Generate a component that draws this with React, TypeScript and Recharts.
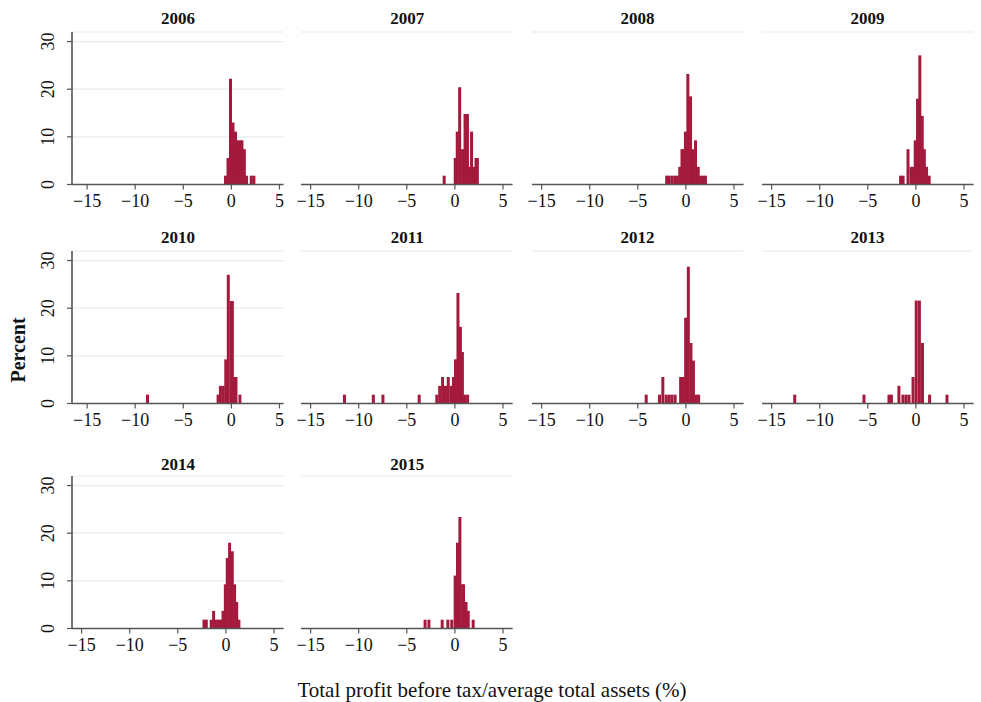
import React from 'react';
import { BarChart, Bar, XAxis, YAxis, CartesianGrid } from 'recharts';

// histogram bins per year: [bin centre (%), percent of banks]
const bins2006 = [[-0.63, 1.85], [-0.37, 5.56], [-0.11, 22.2], [0.15, 13.0], [0.41, 11.1], [0.65, 9.26], [0.87, 9.26], [1.08, 9.26], [1.33, 7.41], [1.56, 1.85], [2.05, 1.85], [2.32, 1.85]];
const bins2007 = [[-1.11, 1.85], [0.04, 5.56], [0.25, 11.1], [0.5, 20.4], [0.8, 7.41], [1.06, 14.8], [1.31, 14.8], [1.53, 3.7], [1.74, 11.1], [1.98, 3.7], [2.2, 5.56], [2.34, 5.56]];
const bins2008 = [[-1.98, 1.85], [-1.75, 1.85], [-1.45, 1.85], [-1.15, 1.85], [-0.87, 1.85], [-0.62, 3.7], [-0.39, 7.41], [-0.22, 7.41], [-0.03, 11.1], [0.22, 23.2], [0.5, 18.5], [0.75, 7.41], [1.02, 9.26], [1.3, 3.7], [1.55, 1.85], [1.8, 1.85], [2.05, 1.85]];
const bins2009 = [[-1.57, 1.85], [-1.31, 1.85], [-0.8, 7.41], [-0.48, 3.7], [-0.3, 3.7], [-0.05, 9.26], [0.19, 18.0], [0.43, 27.1], [0.68, 14.4], [0.9, 7.41], [1.13, 3.7], [1.4, 1.85]];
const bins2010 = [[-8.72, 1.85], [-1.38, 1.85], [-1.14, 3.7], [-0.85, 3.7], [-0.58, 9.26], [-0.32, 27.0], [-0.02, 21.5], [0.1, 21.5], [0.33, 5.56], [0.48, 5.56], [0.89, 1.85]];
const bins2011 = [[-11.5, 1.85], [-8.5, 1.85], [-7.5, 1.85], [-3.73, 1.85], [-1.9, 1.85], [-1.6, 3.7], [-1.3, 5.56], [-1.0, 3.7], [-0.71, 5.56], [-0.42, 3.7], [-0.17, 5.56], [0.04, 9.26], [0.3, 23.2], [0.55, 16.1], [0.76, 10.8], [1.0, 1.85], [1.3, 1.85]];
const bins2012 = [[-4.13, 1.85], [-2.75, 1.85], [-2.4, 5.56], [-2.05, 1.85], [-1.75, 1.85], [-1.45, 1.85], [-1.12, 1.85], [-0.55, 5.56], [-0.28, 5.56], [-0.03, 18.0], [0.25, 28.7], [0.52, 12.7], [0.78, 9.0], [1.05, 1.85], [1.32, 1.85]];
const bins2013 = [[-12.6, 1.85], [-5.4, 1.85], [-2.8, 1.85], [-2.55, 1.85], [-1.77, 3.7], [-1.35, 1.85], [-1.03, 1.85], [-0.72, 1.85], [-0.3, 5.56], [0.03, 21.6], [0.36, 21.6], [0.68, 12.7], [1.42, 1.85], [3.23, 1.85]];
const bins2014 = [[-2.3, 1.85], [-2.06, 1.85], [-1.55, 1.85], [-1.3, 3.7], [-1.03, 1.85], [-0.78, 1.85], [-0.55, 1.85], [-0.32, 3.7], [-0.08, 9.26], [0.12, 14.8], [0.36, 18.0], [0.64, 16.2], [0.88, 9.26], [1.1, 5.56], [1.33, 1.85]];
const bins2015 = [[-3.1, 1.85], [-2.7, 1.85], [-1.32, 1.85], [-0.73, 1.85], [-0.32, 1.85], [0.03, 11.1], [0.27, 18.0], [0.52, 23.4], [0.8, 9.26], [0.9, 9.26], [1.16, 5.56], [1.39, 3.7], [1.9, 1.85]];

const years = ['2006', '2007', '2008', '2009', '2010', '2011', '2012', '2013', '2014', '2015'];
const yearBins = [bins2006, bins2007, bins2008, bins2009, bins2010, bins2011, bins2012, bins2013, bins2014, bins2015];
// left end of each panel's x range
const xStarts = [-16.57, -16, -16, -16, -16.57, -16, -16, -16, -16, -16];
const xTicks = [-15, -10, -5, 0, 5];
const yTicks = [0, 10, 20, 30];

const xTitle = 'Total profit before tax/average total assets (%)';
const yTitle = 'Percent';

const FONT = '"Liberation Serif", "DejaVu Serif", serif';
const BAR = '#a41a3c';
const AXIS = '#555';
const GRID = '#e4ecef';
const BAR_PX = 3;

const PLOT_LEFT = [72.3, 301.4, 531.7, 761.7];
const PLOT_TOP = [31.7, 251, 475.5];
const PLOT_W = 211.6;
const PLOT_H = 152.5;
const X_SPAN = 22;

const fmt = (v: number) => (v < 0 ? '\u2212' + Math.abs(v) : String(v));

// fixed-width bin drawn round the centre the library computed
const BinShape = (props: any) => {
  const { x, y, width, height } = props;
  if (!height) return null;
  const cx = x + width / 2;
  return <rect x={cx - BAR_PX / 2} y={y} width={BAR_PX} height={height} fill={BAR} />;
};

const YTick = (props: any) => {
  const { x, y, payload } = props;
  return (
    <text x={x} y={y} transform={`rotate(-90 ${x} ${y})`} textAnchor="middle" fontSize={18} fontFamily={FONT} fill="#111">
      {payload.value}
    </text>
  );
};

const Panel = ({ idx }: { idx: number }) => {
  const col = idx % 4;
  const row = Math.floor(idx / 4);
  const data = yearBins[idx].map(([x, pct]) => ({ x, pct }));
  const x0 = xStarts[idx];
  const first = col === 0;
  return (
    <div style={{ position: 'absolute', left: PLOT_LEFT[col] - 60, top: PLOT_TOP[row] - 10 }}>
      <BarChart
        width={60 + PLOT_W + 10}
        height={10 + PLOT_H + 40}
        data={data}
        margin={{ top: 10, right: 10, bottom: 0, left: first ? 30 : 60 }}
      >
        <CartesianGrid vertical={false} stroke={GRID} strokeWidth={1.2} />
        <XAxis
          type="number"
          dataKey="x"
          domain={[x0, x0 + X_SPAN]}
          ticks={xTicks}
          interval={0}
          allowDataOverflow
          tickFormatter={fmt}
          height={40}
          tickSize={5}
          tickMargin={5}
          axisLine={{ stroke: AXIS, strokeWidth: 1.6 }}
          tickLine={{ stroke: AXIS, strokeWidth: 1.2 }}
          tick={{ fontSize: 18, fontFamily: FONT, fill: '#111' }}
        />
        {first ? (
          <YAxis
            domain={[0, 32]}
            ticks={yTicks}
            interval={0}
            width={30}
            tickSize={5}
            tickMargin={13}
            axisLine={{ stroke: AXIS, strokeWidth: 1.6 }}
            tickLine={{ stroke: AXIS, strokeWidth: 1.2 }}
            tick={<YTick />}
          />
        ) : (
          <YAxis domain={[0, 32]} ticks={yTicks} width={0} axisLine={false} tickLine={false} tick={false} />
        )}
        <Bar dataKey="pct" fill={BAR} shape={<BinShape />} isAnimationActive={false} />
      </BarChart>
    </div>
  );
};

export default function App() {
  const titleY = [24, 243, 470];
  return (
    <div style={{ position: 'absolute', left: 0, top: 0, width: 981, height: 702, background: '#fff', overflow: 'hidden' }}>
      {years.map((y, i) => (
        <Panel key={y} idx={i} />
      ))}
      <svg width={981} height={702} style={{ position: 'absolute', left: 0, top: 0, pointerEvents: 'none' }}>
        {years.map((y, i) => (
          <text
            key={y}
            x={PLOT_LEFT[i % 4] + PLOT_W / 2}
            y={titleY[Math.floor(i / 4)]}
            textAnchor="middle"
            fontSize={17}
            fontWeight="bold"
            fontFamily={FONT}
            fill="#111"
          >
            {y}
          </text>
        ))}
        <text x={25} y={350} transform="rotate(-90 25 350)" textAnchor="middle" fontSize={20} fontWeight="bold" fontFamily={FONT} fill="#111">
          {yTitle}
        </text>
        <text x={492} y={697} textAnchor="middle" fontSize={21} fontFamily={FONT} fill="#111">
          {xTitle}
        </text>
      </svg>
    </div>
  );
}
